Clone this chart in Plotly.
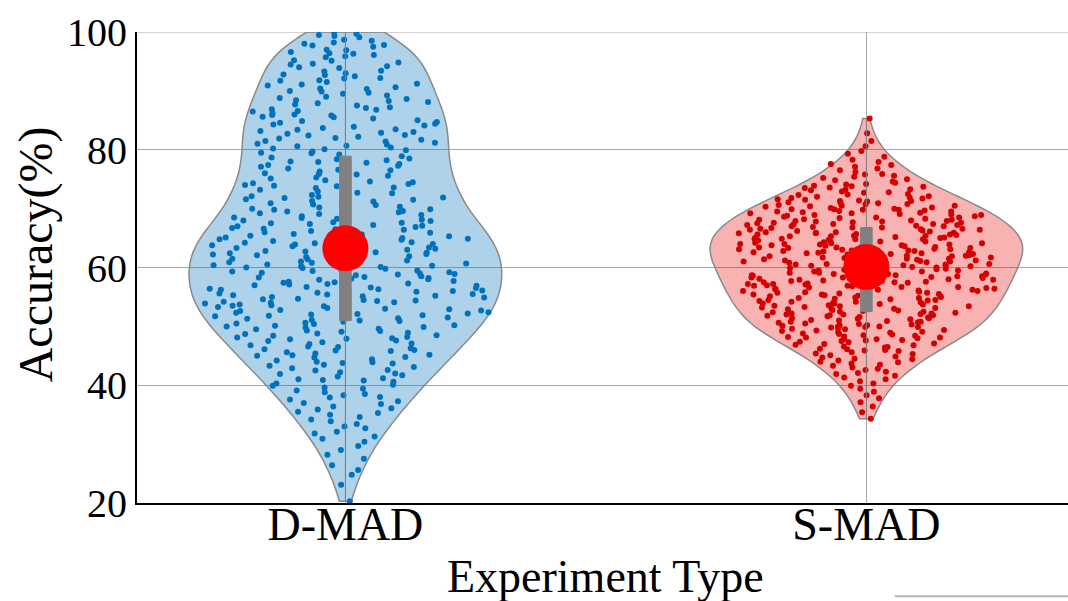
import numpy as np
import plotly.graph_objects as go

categories = ["D-MAD", "S-MAD"]

d_mad = [
    20.3, 23.1, 24.8, 25.6, 26.4, 27.5, 28.2, 29.0, 29.7, 30.4, 30.9, 31.3, 31.8,
    32.1, 32.7, 33.0, 33.4, 33.9, 34.2, 34.6, 35.0, 35.3, 35.5, 35.9,
    36.1, 36.4, 36.8, 37.0, 37.3, 37.6, 37.9, 38.0, 38.3, 38.5, 38.8, 39.1, 39.4, 39.6, 39.9,
    40.1, 40.3, 40.6, 40.8, 40.9, 41.0, 41.2, 41.5, 41.7, 41.9,
    42.0, 42.2, 42.5, 42.6, 42.9, 43.1, 43.3, 43.5, 43.7, 43.8, 43.9,
    44.0, 44.2, 44.4, 44.7, 44.8, 45.0, 45.1, 45.2, 45.4, 45.6, 45.8, 45.9,
    46.0, 46.1, 46.3, 46.5, 46.6, 46.8, 47.0, 47.1, 47.3, 47.5, 47.6, 47.8, 47.9,
    48.0, 48.1, 48.2, 48.4, 48.5, 48.7, 48.8, 48.9, 49.1, 49.2, 49.3, 49.5, 49.6, 49.8, 49.9,
    50.0, 50.1, 50.2, 50.4, 50.5, 50.6, 50.8, 50.9, 51.0, 51.1, 51.3, 51.4, 51.5, 51.7, 51.8, 51.9,
    52.0, 52.1, 52.2, 52.3, 52.4, 52.6, 52.7, 52.8, 52.9, 53.0, 53.1, 53.3, 53.4, 53.5, 53.6, 53.7, 53.9,
    54.0, 54.1, 54.2, 54.3, 54.4, 54.5, 54.6, 54.7, 54.9, 55.0, 55.1, 55.2, 55.3, 55.4, 55.5, 55.6, 55.7, 55.9,
    56.0, 56.1, 56.2, 56.3, 56.4, 56.5, 56.6, 56.7, 56.9, 57.0, 57.1, 57.2, 57.3, 57.4, 57.5, 57.6, 57.7, 57.9,
    58.0, 58.1, 58.2, 58.3, 58.4, 58.5, 58.7, 58.8, 58.9, 59.0, 59.1, 59.2, 59.3, 59.4, 59.5, 59.7, 59.8, 59.9,
    60.0, 60.1, 60.2, 60.3, 60.4, 60.5, 60.7, 60.8, 60.9, 61.0, 61.1, 61.2, 61.3, 61.4, 61.5, 61.7, 61.8, 61.9,
    62.0, 62.1, 62.2, 62.3, 62.4, 62.5, 62.6, 62.7, 62.8, 63.0, 63.1, 63.2, 63.3, 63.4, 63.5, 63.6, 63.8, 63.9,
    64.0, 64.1, 64.2, 64.3, 64.5, 64.6, 64.7, 64.8, 64.9, 65.0, 65.1, 65.3, 65.4, 65.5, 65.6, 65.7, 65.9,
    66.0, 66.1, 66.2, 66.4, 66.5, 66.6, 66.7, 66.9, 67.0, 67.1, 67.2, 67.4, 67.5, 67.6, 67.7, 67.9,
    68.0, 68.1, 68.3, 68.4, 68.5, 68.7, 68.9, 69.1, 69.2, 69.4, 69.5, 69.6, 69.8, 69.9,
    70.0, 70.2, 70.3, 70.4, 70.6, 70.7, 70.9, 71.2, 71.3, 71.5, 71.6, 71.8, 71.9,
    72.0, 72.1, 72.3, 72.4, 72.6, 72.7, 72.9, 73.2, 73.3, 73.5, 73.6, 73.8, 73.9,
    74.0, 74.2, 74.3, 74.5, 74.6, 74.8, 75.1, 75.3, 75.4, 75.6, 75.8, 75.9,
    76.0, 76.2, 76.3, 76.5, 76.6, 76.8, 77.1, 77.3, 77.4, 77.6, 77.8, 77.9,
    78.0, 78.2, 78.4, 78.5, 78.7, 78.9, 79.2, 79.4, 79.5, 79.7, 79.9,
    80.1, 80.2, 80.4, 80.6, 80.7, 80.9, 81.0, 81.2, 81.4, 81.5, 81.7, 81.9,
    82.0, 82.2, 82.4, 82.5, 82.7, 82.9, 83.0, 83.2, 83.4, 83.5, 83.7, 83.9,
    84.1, 84.3, 84.4, 84.6, 84.7, 84.9, 85.0, 85.3, 85.5, 85.6, 85.8, 85.9,
    86.0, 86.2, 86.5, 86.6, 86.8, 86.9, 87.1, 87.2, 87.5, 87.7, 87.9,
    88.1, 88.3, 88.4, 88.6, 88.8, 89.0, 89.2, 89.5, 89.7, 89.9,
    90.0, 90.3, 90.4, 90.6, 90.9, 91.1, 91.2, 91.5, 91.7, 91.8,
    92.1, 92.2, 92.5, 92.7, 92.8, 93.0, 93.3, 93.4, 93.9,
    94.0, 94.2, 94.5, 94.6, 94.8, 95.1, 95.2, 95.7, 95.9,
    96.1, 96.3, 96.4, 96.6, 96.9, 97.0, 97.5, 97.7, 97.8,
    98.0, 98.2, 98.5, 98.7, 99.1, 99.3, 99.5, 99.7, 100.0,
]

s_mad = [
    34.3, 35.4, 36.4, 37.1, 37.8, 38.3, 38.9, 39.4, 39.9,
    40.3, 40.7, 41.0, 41.3, 41.6, 41.9,
    42.1, 42.3, 42.6, 42.8, 43.0, 43.3, 43.5, 43.7, 43.9,
    44.0, 44.2, 44.4, 44.5, 44.7, 44.9, 45.1, 45.3, 45.4, 45.6, 45.8, 45.9,
    46.0, 46.1, 46.2, 46.4, 46.5, 46.6, 46.8, 46.9, 47.0, 47.1, 47.3, 47.4, 47.5, 47.6, 47.7, 47.8, 47.9,
    48.0, 48.1, 48.1, 48.2, 48.3, 48.4, 48.5, 48.6, 48.7, 48.8, 48.9, 49.0, 49.1, 49.2, 49.3, 49.4,
    49.5, 49.6, 49.7, 49.8, 49.9, 49.9,
    50.0, 50.0, 50.1, 50.2, 50.2, 50.3, 50.4, 50.5, 50.6, 50.7, 50.8, 50.8, 50.9, 51.0, 51.1, 51.2,
    51.3, 51.4, 51.4, 51.5, 51.6, 51.7, 51.8, 51.9, 51.9,
    52.0, 52.0, 52.1, 52.2, 52.2, 52.3, 52.4, 52.5, 52.5, 52.6, 52.7, 52.8, 52.9, 53.0, 53.0, 53.1,
    53.2, 53.3, 53.4, 53.4, 53.5, 53.6, 53.7, 53.7, 53.8, 53.9, 53.9,
    54.0, 54.0, 54.1, 54.2, 54.2, 54.3, 54.4, 54.5, 54.5, 54.6, 54.7, 54.8, 54.8, 54.9, 55.0, 55.1,
    55.1, 55.2, 55.3, 55.4, 55.4, 55.5, 55.6, 55.7, 55.7, 55.8, 55.9, 55.9,
    56.0, 56.0, 56.1, 56.2, 56.2, 56.3, 56.4, 56.4, 56.5, 56.6, 56.7, 56.7, 56.8, 56.9, 56.9, 57.0,
    57.1, 57.2, 57.2, 57.3, 57.4, 57.5, 57.5, 57.6, 57.7, 57.7, 57.8, 57.9, 57.9,
    58.0, 58.0, 58.1, 58.1, 58.2, 58.3, 58.3, 58.4, 58.5, 58.5, 58.6, 58.7, 58.7, 58.8, 58.9, 58.9,
    59.0, 59.1, 59.1, 59.2, 59.3, 59.3, 59.4, 59.5, 59.5, 59.6, 59.7, 59.8, 59.8, 59.9,
    60.0, 60.0, 60.1, 60.1, 60.2, 60.3, 60.3, 60.4, 60.5, 60.5, 60.6, 60.6, 60.7, 60.8, 60.8, 60.9,
    61.0, 61.0, 61.1, 61.2, 61.2, 61.3, 61.3, 61.4, 61.5, 61.5, 61.6, 61.7, 61.7, 61.8, 61.9, 61.9,
    62.0, 62.0, 62.1, 62.1, 62.2, 62.3, 62.3, 62.4, 62.4, 62.5, 62.6, 62.6, 62.7, 62.8, 62.8, 62.9,
    62.9, 63.0, 63.1, 63.1, 63.2, 63.3, 63.3, 63.4, 63.4, 63.5, 63.6, 63.6, 63.7, 63.8, 63.8, 63.9, 63.9,
    64.0, 64.0, 64.1, 64.1, 64.2, 64.3, 64.3, 64.4, 64.4, 64.5, 64.6, 64.6, 64.7, 64.8, 64.8, 64.9,
    64.9, 65.0, 65.1, 65.1, 65.2, 65.3, 65.3, 65.4, 65.4, 65.5, 65.6, 65.6, 65.7, 65.8, 65.8, 65.9, 65.9,
    66.0, 66.0, 66.1, 66.2, 66.2, 66.3, 66.4, 66.4, 66.5, 66.6, 66.6, 66.7, 66.8, 66.8, 66.9, 67.0,
    67.0, 67.1, 67.2, 67.2, 67.3, 67.4, 67.4, 67.5, 67.6, 67.6, 67.7, 67.8, 67.8, 67.9, 67.9,
    68.0, 68.1, 68.1, 68.2, 68.3, 68.4, 68.5, 68.5, 68.6, 68.7, 68.8, 68.9, 68.9, 69.0, 69.1, 69.2,
    69.2, 69.3, 69.4, 69.5, 69.5, 69.6, 69.7, 69.8, 69.8, 69.9, 69.9,
    70.0, 70.1, 70.2, 70.3, 70.4, 70.5, 70.5, 70.6, 70.7, 70.8, 70.9, 71.0, 71.1, 71.2, 71.3, 71.3,
    71.4, 71.5, 71.6, 71.7, 71.8, 71.9,
    72.0, 72.1, 72.3, 72.4, 72.5, 72.7, 72.8, 72.9, 73.1, 73.2, 73.3, 73.5, 73.6, 73.7, 73.8, 73.9,
    74.1, 74.2, 74.4, 74.6, 74.8, 75.0, 75.2, 75.4, 75.6, 75.8, 75.9,
    76.2, 76.5, 76.8, 77.1, 77.4, 77.6, 77.9,
    78.3, 78.8, 79.3, 79.8, 80.6, 81.5, 82.8, 85.3,
]

y_ticks = [20, 40, 60, 80, 100]

series = {
    "D-MAD": dict(values=d_mad, bw=3.5, fill="rgba(0,114,189,0.32)", point="#0072BD"),
    "S-MAD": dict(values=s_mad, bw=2.5, fill="rgba(235,0,0,0.30)", point="#D40000"),
}

SERIF = "Liberation Serif, Times New Roman, serif"
VIOLIN_W = 0.6
N_LEVELS = 10


def kde(vals, bw, at):
    v = np.asarray(vals, dtype=float)
    p = np.asarray(at, dtype=float)
    return np.exp(-0.5 * ((p[:, None] - v[None, :]) / bw) ** 2).sum(axis=1)


fig = go.Figure()

# violin bodies
for ci, cat in enumerate(categories):
    s = series[cat]
    vals = s["values"]
    fig.add_trace(go.Violin(
        x=[ci] * len(vals), y=vals, width=VIOLIN_W, spanmode="hard",
        bandwidth=s["bw"], scalemode="width",
        fillcolor=s["fill"], line=dict(color="#8a8a8a", width=1.5),
        points=False, box=dict(visible=False), meanline=dict(visible=False),
        hoverinfo="skip", showlegend=False,
    ))

# density level of every point, so that the jitter spread follows the violin outline
groups = {}
for ci, cat in enumerate(categories):
    s = series[cat]
    vals = np.asarray(s["values"], dtype=float)
    grid = np.linspace(vals.min(), vals.max(), 800)
    kg = kde(vals, s["bw"], grid)
    peak = grid[np.argmax(kg)]
    lvl = kde(vals, s["bw"], vals) / kg.max()
    gidx = np.minimum((lvl * N_LEVELS).astype(int), N_LEVELS - 1)
    upper = vals >= peak
    for g in range(N_LEVELS):
        for sd in (False, True):
            m = (gidx == g) & (upper == sd)
            if m.any():
                groups.setdefault(g, []).append((ci, cat, sd, vals[m].tolist()))

for g, parts in groups.items():
    xs, ys, cols = [], [], []
    for ci, cat, sd, sub in parts:
        # each part is its own tiny box position so plotly's jitter sequence runs on
        order = (1 if sd else 0) if g % 2 == 0 else (0 if sd else 1)
        xpos = ci + 0.001 * (order + 1)
        xs += [xpos] * len(sub)
        ys += sub
    for ci, cat in enumerate(categories):
        sel_x = [x for x, (p) in zip(xs, xs) if abs(x - ci) < 0.01]
        sel_y = [y for x, y in zip(xs, ys) if abs(x - ci) < 0.01]
        if not sel_y:
            continue
        fig.add_trace(go.Violin(
            x=sel_x, y=sel_y, width=VIOLIN_W, spanmode="hard",
            fillcolor="rgba(0,0,0,0)", line=dict(width=0),
            points="all", pointpos=0,
            jitter=min(1.0, (g / N_LEVELS + 0.05) * 0.96),
            marker=dict(size=6, color=series[cat]["point"], line=dict(width=0)),
            box=dict(visible=False), meanline=dict(visible=False),
            hoverinfo="skip", showlegend=False,
        ))

# grey inner boxes
for ci, cat in enumerate(categories):
    vals = series[cat]["values"]
    fig.add_trace(go.Violin(
        x=[ci] * len(vals), y=vals, width=VIOLIN_W, spanmode="hard",
        fillcolor="rgba(0,0,0,0)", line=dict(width=0), points=False,
        box=dict(visible=True, width=0.037, fillcolor="#808080",
                 line=dict(color="#808080", width=1)),
        meanline=dict(visible=False), hoverinfo="skip", showlegend=False,
    ))

# median markers
fig.add_trace(go.Scatter(
    x=list(range(len(categories))),
    y=[float(np.median(series[c]["values"])) for c in categories],
    mode="markers", marker=dict(size=46, color="#FF0000"),
    showlegend=False, hoverinfo="skip",
))

fig.update_layout(
    width=1068, height=601,
    margin=dict(l=137, r=0, t=32, b=98),
    paper_bgcolor="white", plot_bgcolor="white",
    violinmode="overlay",
    font=dict(family=SERIF, color="#000000"),
    xaxis=dict(
        range=[-0.4, 1.387], tickmode="array",
        tickvals=list(range(len(categories))), ticktext=categories,
        showgrid=True, gridcolor="#a8a8a8", gridwidth=1,
        showline=True, linecolor="#000000", linewidth=2,
        ticks="", tickfont=dict(size=46, family=SERIF), ticklabelstandoff=-20,
        zeroline=False,
    ),
    yaxis=dict(
        range=[20, 100], tickvals=y_ticks,
        showgrid=True, gridcolor="#a8a8a8", gridwidth=1,
        showline=True, linecolor="#000000", linewidth=2,
        ticks="", tickfont=dict(size=40, family=SERIF),
        zeroline=False,
    ),
    annotations=[
        dict(text="Experiment Type", xref="paper", yref="paper", x=0.503, y=-0.157,
             xanchor="center", yanchor="middle", showarrow=False,
             font=dict(size=46, family=SERIF, color="#000000")),
        dict(text="Accuracy(%)", xref="paper", yref="paper", x=-0.109, y=0.527,
             xanchor="center", yanchor="middle", textangle=-90, showarrow=False,
             font=dict(size=48, family=SERIF, color="#000000")),
    ],
    shapes=[
        dict(type="line", xref="paper", yref="y", x0=0, x1=1, y0=100, y1=100,
             line=dict(color="#a8a8a8", width=1), layer="below"),
        dict(type="line", xref="paper", yref="paper", x0=0.814, x1=1.0, y0=-0.198, y1=-0.198,
             line=dict(color="#b4b4b4", width=2)),
    ],
)

fig.write_html("out.html")
